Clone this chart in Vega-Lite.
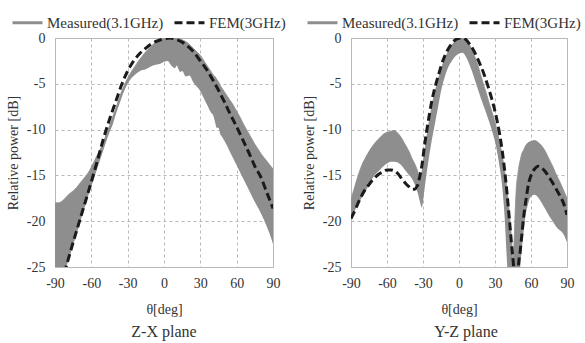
{
  "$schema": "https://vega.github.io/schema/vega-lite/v6.json",
  "background": "white",
  "padding": {"left": 5, "top": 5, "right": 5, "bottom": 5},
  "spacing": 14,
  "datasets": {
    "zx_meas": [
      {"theta": -90, "lo": -29, "hi": -18.0}, {"theta": -87, "lo": -28, "hi": -18.0}, {"theta": -84, "lo": -27, "hi": -17.8},
      {"theta": -81, "lo": -25.2, "hi": -17.4}, {"theta": -78, "lo": -23.9, "hi": -17.0}, {"theta": -75, "lo": -22.6, "hi": -16.7},
      {"theta": -72, "lo": -21.3, "hi": -16.3}, {"theta": -69, "lo": -20.0, "hi": -15.8}, {"theta": -66, "lo": -18.7, "hi": -15.3},
      {"theta": -63, "lo": -17.4, "hi": -14.8}, {"theta": -60, "lo": -16.2, "hi": -14.1}, {"theta": -57, "lo": -15.0, "hi": -13.3},
      {"theta": -54, "lo": -13.8, "hi": -12.5}, {"theta": -51, "lo": -12.6, "hi": -11.7}, {"theta": -48, "lo": -11.4, "hi": -10.7},
      {"theta": -45, "lo": -10.3, "hi": -9.6}, {"theta": -42, "lo": -9.3, "hi": -8.5}, {"theta": -39, "lo": -8.0, "hi": -7.4},
      {"theta": -36, "lo": -6.9, "hi": -6.2}, {"theta": -33, "lo": -5.8, "hi": -5.2}, {"theta": -30, "lo": -5.0, "hi": -4.4},
      {"theta": -27, "lo": -4.4, "hi": -3.7}, {"theta": -24, "lo": -4.0, "hi": -3.1}, {"theta": -21, "lo": -3.7, "hi": -2.5},
      {"theta": -18, "lo": -3.5, "hi": -2.0}, {"theta": -15, "lo": -3.4, "hi": -1.5}, {"theta": -12, "lo": -3.2, "hi": -1.1},
      {"theta": -9, "lo": -3.0, "hi": -0.7}, {"theta": -6, "lo": -2.9, "hi": -0.4}, {"theta": -3, "lo": -2.8, "hi": -0.2},
      {"theta": 0, "lo": -2.6, "hi": -0.05}, {"theta": 3, "lo": -2.5, "hi": 0}, {"theta": 6, "lo": -3.0, "hi": 0},
      {"theta": 9, "lo": -3.3, "hi": 0}, {"theta": 10.5, "lo": -3.0, "hi": 0}, {"theta": 12, "lo": -3.4, "hi": -0.05},
      {"theta": 13.5, "lo": -3.7, "hi": -0.1}, {"theta": 15, "lo": -3.6, "hi": -0.2}, {"theta": 18, "lo": -4.2, "hi": -0.4},
      {"theta": 21, "lo": -4.1, "hi": -0.7}, {"theta": 24, "lo": -4.8, "hi": -1.1}, {"theta": 27, "lo": -5.3, "hi": -1.5},
      {"theta": 30, "lo": -5.8, "hi": -1.9}, {"theta": 33, "lo": -6.6, "hi": -2.5}, {"theta": 36, "lo": -7.4, "hi": -3.1},
      {"theta": 39, "lo": -8.2, "hi": -3.7}, {"theta": 40.5, "lo": -8.4, "hi": -4.0}, {"theta": 42, "lo": -9.1, "hi": -4.2},
      {"theta": 43.5, "lo": -9.8, "hi": -4.5}, {"theta": 45, "lo": -9.8, "hi": -4.8}, {"theta": 46.5, "lo": -10.5, "hi": -5.2},
      {"theta": 48, "lo": -10.8, "hi": -5.5}, {"theta": 51, "lo": -11.5, "hi": -6.1}, {"theta": 54, "lo": -12.3, "hi": -6.7},
      {"theta": 57, "lo": -13.1, "hi": -7.3}, {"theta": 60, "lo": -13.9, "hi": -8.0}, {"theta": 63, "lo": -14.7, "hi": -8.7},
      {"theta": 66, "lo": -15.5, "hi": -9.5}, {"theta": 69, "lo": -16.3, "hi": -10.2}, {"theta": 72, "lo": -17.1, "hi": -10.9},
      {"theta": 75, "lo": -17.9, "hi": -11.6}, {"theta": 78, "lo": -18.6, "hi": -12.2}, {"theta": 81, "lo": -19.4, "hi": -12.8},
      {"theta": 84, "lo": -20.3, "hi": -13.3}, {"theta": 87, "lo": -21.3, "hi": -13.8}, {"theta": 90, "lo": -22.5, "hi": -14.3}
    ],
    "zx_fem": [
      {"theta": -90, "db": -29.5}, {"theta": -85, "db": -27.0}, {"theta": -80, "db": -24.6}, {"theta": -75, "db": -22.3},
      {"theta": -70, "db": -20.1}, {"theta": -65, "db": -17.9}, {"theta": -60, "db": -15.7}, {"theta": -55, "db": -13.4},
      {"theta": -50, "db": -11.0}, {"theta": -45, "db": -8.9}, {"theta": -40, "db": -7.0}, {"theta": -35, "db": -5.1},
      {"theta": -30, "db": -3.6}, {"theta": -25, "db": -2.5}, {"theta": -20, "db": -1.7}, {"theta": -15, "db": -1.1},
      {"theta": -10, "db": -0.6}, {"theta": -5, "db": -0.3}, {"theta": 0, "db": -0.1}, {"theta": 5, "db": 0},
      {"theta": 10, "db": -0.15}, {"theta": 15, "db": -0.45}, {"theta": 20, "db": -0.95}, {"theta": 25, "db": -1.6},
      {"theta": 30, "db": -2.5}, {"theta": 35, "db": -3.4}, {"theta": 40, "db": -4.5}, {"theta": 45, "db": -5.7},
      {"theta": 50, "db": -7.0}, {"theta": 55, "db": -8.4}, {"theta": 60, "db": -9.7}, {"theta": 65, "db": -11.1},
      {"theta": 70, "db": -12.5}, {"theta": 75, "db": -14.0}, {"theta": 80, "db": -15.2}, {"theta": 85, "db": -16.9},
      {"theta": 90, "db": -18.6}
    ],
    "yz_meas": [
      {"theta": -90, "lo": -19.8, "hi": -17.6}, {"theta": -87, "lo": -18.9, "hi": -16.3}, {"theta": -84, "lo": -18.1, "hi": -15.0},
      {"theta": -81, "lo": -17.4, "hi": -13.9}, {"theta": -78, "lo": -16.8, "hi": -13.1}, {"theta": -75, "lo": -16.0, "hi": -12.4},
      {"theta": -72, "lo": -15.3, "hi": -11.8}, {"theta": -69, "lo": -14.8, "hi": -11.3}, {"theta": -66, "lo": -14.4, "hi": -10.9},
      {"theta": -63, "lo": -14.0, "hi": -10.5}, {"theta": -60, "lo": -13.7, "hi": -10.3}, {"theta": -57, "lo": -13.5, "hi": -10.2},
      {"theta": -54, "lo": -13.5, "hi": -10.1}, {"theta": -51, "lo": -13.6, "hi": -10.4}, {"theta": -48, "lo": -13.9, "hi": -10.9},
      {"theta": -45, "lo": -14.4, "hi": -11.6}, {"theta": -42, "lo": -14.9, "hi": -12.3}, {"theta": -39, "lo": -15.4, "hi": -13.2},
      {"theta": -36, "lo": -16.3, "hi": -14.0}, {"theta": -34, "lo": -17.1, "hi": -14.7}, {"theta": -32.5, "lo": -17.9, "hi": -15.2},
      {"theta": -31, "lo": -18.5, "hi": -14.8}, {"theta": -29, "lo": -16.8, "hi": -12.8}, {"theta": -27, "lo": -14.8, "hi": -11.0},
      {"theta": -25, "lo": -13.0, "hi": -9.3}, {"theta": -23, "lo": -11.4, "hi": -7.8}, {"theta": -21, "lo": -10.0, "hi": -6.5},
      {"theta": -19, "lo": -8.6, "hi": -5.4}, {"theta": -17, "lo": -7.2, "hi": -4.4}, {"theta": -15, "lo": -5.8, "hi": -3.5},
      {"theta": -12, "lo": -4.3, "hi": -2.4}, {"theta": -9, "lo": -3.2, "hi": -1.5}, {"theta": -6, "lo": -2.5, "hi": -0.8},
      {"theta": -3, "lo": -2.0, "hi": -0.35}, {"theta": 0, "lo": -1.7, "hi": -0.1}, {"theta": 3, "lo": -1.6, "hi": -0.05},
      {"theta": 6, "lo": -2.1, "hi": -0.3}, {"theta": 9, "lo": -3.0, "hi": -0.8}, {"theta": 12, "lo": -4.1, "hi": -1.7},
      {"theta": 15, "lo": -5.3, "hi": -2.7}, {"theta": 18, "lo": -6.5, "hi": -4.0}, {"theta": 21, "lo": -7.6, "hi": -5.3},
      {"theta": 24, "lo": -8.7, "hi": -6.6}, {"theta": 27, "lo": -9.9, "hi": -7.9}, {"theta": 30, "lo": -11.3, "hi": -9.2},
      {"theta": 32, "lo": -12.6, "hi": -10.3}, {"theta": 34, "lo": -14.2, "hi": -11.5}, {"theta": 36, "lo": -16.2, "hi": -12.9},
      {"theta": 38, "lo": -19.5, "hi": -14.5}, {"theta": 40, "lo": -24.5, "hi": -16.6}, {"theta": 41, "lo": -27, "hi": -17.8},
      {"theta": 42, "lo": -28, "hi": -19.2}, {"theta": 44, "lo": -28, "hi": -22.5}, {"theta": 45, "lo": -28, "hi": -24.5},
      {"theta": 46, "lo": -28, "hi": -22.0}, {"theta": 47, "lo": -28, "hi": -18.5}, {"theta": 48, "lo": -28, "hi": -16.0},
      {"theta": 49, "lo": -28, "hi": -15.0}, {"theta": 50, "lo": -27, "hi": -14.0}, {"theta": 51, "lo": -25, "hi": -13.4},
      {"theta": 52, "lo": -23.5, "hi": -12.8}, {"theta": 54, "lo": -21.0, "hi": -12.2}, {"theta": 55, "lo": -19.8, "hi": -11.9},
      {"theta": 57, "lo": -18.4, "hi": -11.5}, {"theta": 60, "lo": -17.3, "hi": -11.3}, {"theta": 63, "lo": -17.1, "hi": -11.2},
      {"theta": 66, "lo": -17.4, "hi": -11.4}, {"theta": 69, "lo": -18.0, "hi": -11.8}, {"theta": 72, "lo": -18.7, "hi": -12.4},
      {"theta": 75, "lo": -19.4, "hi": -13.2}, {"theta": 78, "lo": -20.0, "hi": -14.0}, {"theta": 81, "lo": -20.6, "hi": -14.9},
      {"theta": 84, "lo": -21.0, "hi": -15.7}, {"theta": 87, "lo": -21.4, "hi": -16.6}, {"theta": 90, "lo": -22.3, "hi": -17.5}
    ],
    "yz_fem": [
      {"theta": -90, "db": -19.7}, {"theta": -87, "db": -18.9}, {"theta": -84, "db": -18.0}, {"theta": -81, "db": -17.2},
      {"theta": -78, "db": -16.5}, {"theta": -75, "db": -16.0}, {"theta": -72, "db": -15.5}, {"theta": -69, "db": -15.1},
      {"theta": -66, "db": -14.8}, {"theta": -63, "db": -14.6}, {"theta": -60, "db": -14.4}, {"theta": -57, "db": -14.4},
      {"theta": -54, "db": -14.5}, {"theta": -51, "db": -14.8}, {"theta": -48, "db": -15.3}, {"theta": -45, "db": -15.8},
      {"theta": -42, "db": -16.2}, {"theta": -39, "db": -16.5}, {"theta": -37, "db": -16.5}, {"theta": -35, "db": -16.2},
      {"theta": -34, "db": -15.9}, {"theta": -33, "db": -15.3}, {"theta": -32, "db": -14.7}, {"theta": -31, "db": -14.0},
      {"theta": -29, "db": -12.0}, {"theta": -27, "db": -10.2}, {"theta": -25, "db": -8.6}, {"theta": -23, "db": -7.1},
      {"theta": -21, "db": -5.9}, {"theta": -19, "db": -4.9}, {"theta": -17, "db": -4.0}, {"theta": -15, "db": -3.1},
      {"theta": -12, "db": -2.0}, {"theta": -9, "db": -1.2}, {"theta": -6, "db": -0.6}, {"theta": -3, "db": -0.2},
      {"theta": 0, "db": -0.03}, {"theta": 3, "db": 0}, {"theta": 6, "db": -0.2}, {"theta": 9, "db": -0.7},
      {"theta": 12, "db": -1.3}, {"theta": 15, "db": -2.1}, {"theta": 18, "db": -3.0}, {"theta": 21, "db": -4.0},
      {"theta": 24, "db": -5.2}, {"theta": 27, "db": -6.5}, {"theta": 30, "db": -8.0}, {"theta": 32, "db": -9.2},
      {"theta": 34, "db": -10.6}, {"theta": 36, "db": -12.3}, {"theta": 38, "db": -14.4}, {"theta": 40, "db": -16.9},
      {"theta": 42, "db": -19.8}, {"theta": 44, "db": -22.8}, {"theta": 45.5, "db": -25.0}, {"theta": 47, "db": -29.0},
      {"theta": 48.5, "db": -28.0}, {"theta": 49.5, "db": -25.0}, {"theta": 51, "db": -23.3}, {"theta": 52, "db": -22.0},
      {"theta": 54, "db": -19.4}, {"theta": 56, "db": -17.5}, {"theta": 58, "db": -15.9}, {"theta": 60, "db": -15.0},
      {"theta": 63, "db": -14.3}, {"theta": 66, "db": -14.0}, {"theta": 69, "db": -14.2}, {"theta": 72, "db": -14.6},
      {"theta": 75, "db": -15.2}, {"theta": 78, "db": -15.8}, {"theta": 81, "db": -16.5}, {"theta": 84, "db": -17.2},
      {"theta": 87, "db": -18.0}, {"theta": 90, "db": -19.3}
    ]
  },
  "resolve": {
    "scale": {"color": "independent", "strokeDash": "independent"},
    "legend": {"color": "independent", "strokeDash": "independent"}
  },
  "hconcat": [
    {
      "width": 218,
      "height": 229,
      "title": {"text": "Z-X plane", "orient": "bottom", "frame": "group", "offset": 8},
      "layer": [
        {
          "data": {"name": "zx_meas"},
          "mark": {"type": "area", "color": "#8e8e8e", "opacity": 1, "interpolate": "monotone", "clip": true},
          "encoding": {
            "x": {"field": "theta", "type": "quantitative", "scale": {"domain": [-90, 90], "nice": false},
                  "axis": {"values": [-90, -60, -30, 0, 30, 60, 90], "tickCount": 7, "title": "θ[deg]", "labelOverlap": false, "labelExpr": "datum.value + ''"}},
            "y": {"field": "lo", "type": "quantitative", "scale": {"domain": [-25, 0], "nice": false},
                  "axis": {"values": [-25, -20, -15, -10, -5, 0], "tickCount": 6, "title": "Relative power [dB]", "labelOverlap": false, "labelExpr": "datum.value + ''"}},
            "y2": {"field": "hi"}
          }
        },
        {
          "data": {"name": "zx_meas"},
          "mark": {"type": "line", "strokeWidth": 1, "interpolate": "monotone", "clip": true},
          "encoding": {
            "x": {"field": "theta", "type": "quantitative"},
            "y": {"field": "hi", "type": "quantitative"},
            "color": {"datum": "Measured(3.1GHz)", "type": "nominal",
                      "scale": {"domain": ["Measured(3.1GHz)", "FEM(3GHz)"], "range": ["#8e8e8e", "#1a1a1a"]},
                      "legend": {"title": null, "orient": "none", "legendX": -44, "legendY": -32, "direction": "horizontal"}},
            "strokeDash": {"datum": "Measured(3.1GHz)", "type": "nominal",
                      "scale": {"domain": ["Measured(3.1GHz)", "FEM(3GHz)"], "range": [[1, 0], [8, 4]]},
                      "legend": {"title": null, "orient": "none", "legendX": -44, "legendY": -32, "direction": "horizontal"}}
          }
        },
        {
          "data": {"name": "zx_fem"},
          "mark": {"type": "line", "strokeWidth": 3, "interpolate": "monotone", "clip": true},
          "encoding": {
            "x": {"field": "theta", "type": "quantitative"},
            "y": {"field": "db", "type": "quantitative"},
            "color": {"datum": "FEM(3GHz)", "type": "nominal"},
            "strokeDash": {"datum": "FEM(3GHz)", "type": "nominal"}
          }
        }
      ]
    },
    {
      "width": 216,
      "height": 229,
      "title": {"text": "Y-Z plane", "orient": "bottom", "frame": "group", "offset": 8, "dx": 7},
      "layer": [
        {
          "data": {"name": "yz_meas"},
          "mark": {"type": "area", "color": "#8e8e8e", "opacity": 1, "interpolate": "monotone", "clip": true},
          "encoding": {
            "x": {"field": "theta", "type": "quantitative", "scale": {"domain": [-90, 90], "nice": false},
                  "axis": {"values": [-90, -60, -30, 0, 30, 60, 90], "tickCount": 7, "title": "θ[deg]", "labelOverlap": false, "labelExpr": "datum.value + ''"}},
            "y": {"field": "lo", "type": "quantitative", "scale": {"domain": [-25, 0], "nice": false},
                  "axis": {"values": [-25, -20, -15, -10, -5, 0], "tickCount": 6, "title": "Relative power [dB]", "labelOverlap": false, "labelExpr": "datum.value + ''"}},
            "y2": {"field": "hi"}
          }
        },
        {
          "data": {"name": "yz_meas"},
          "mark": {"type": "line", "strokeWidth": 1, "interpolate": "monotone", "clip": true},
          "encoding": {
            "x": {"field": "theta", "type": "quantitative"},
            "y": {"field": "hi", "type": "quantitative"},
            "color": {"datum": "Measured(3.1GHz)", "type": "nominal",
                      "scale": {"domain": ["Measured(3.1GHz)", "FEM(3GHz)"], "range": ["#8e8e8e", "#1a1a1a"]},
                      "legend": {"title": null, "orient": "none", "legendX": -45, "legendY": -32, "direction": "horizontal"}},
            "strokeDash": {"datum": "Measured(3.1GHz)", "type": "nominal",
                      "scale": {"domain": ["Measured(3.1GHz)", "FEM(3GHz)"], "range": [[1, 0], [8, 4]]},
                      "legend": {"title": null, "orient": "none", "legendX": -45, "legendY": -32, "direction": "horizontal"}}
          }
        },
        {
          "data": {"name": "yz_fem"},
          "mark": {"type": "line", "strokeWidth": 3, "interpolate": "monotone", "clip": true},
          "encoding": {
            "x": {"field": "theta", "type": "quantitative"},
            "y": {"field": "db", "type": "quantitative"},
            "color": {"datum": "FEM(3GHz)", "type": "nominal"},
            "strokeDash": {"datum": "FEM(3GHz)", "type": "nominal"}
          }
        }
      ]
    }
  ],
  "config": {
    "font": "Liberation Serif",
    "view": {"stroke": "#b8b8b8", "strokeWidth": 1},
    "axis": {
      "grid": true, "gridDash": [3, 3], "gridColor": "#b8b8b8", "gridWidth": 1,
      "domain": false, "ticks": false,
      "labelFont": "Liberation Serif", "labelFontSize": 14, "labelColor": "#333333",
      "labelFlush": false, "labelOverlap": false, "labelBound": false,
      "titleFont": "Liberation Serif", "titleFontSize": 14, "titleFontWeight": "normal", "titleColor": "#333333"
    },
    "axisX": {"labelPadding": 9, "titlePadding": 12},
    "axisY": {"labelPadding": 10, "titlePadding": 6},
    "legend": {
      "symbolType": "stroke", "symbolSize": 900, "symbolStrokeWidth": 3,
      "labelFont": "Liberation Serif", "labelFontSize": 15, "labelColor": "#333333",
      "columnPadding": 4, "labelOffset": 3, "labelLimit": 300
    },
    "title": {"font": "Liberation Serif", "fontSize": 16, "fontWeight": "normal", "color": "#333333"}
  }
}
